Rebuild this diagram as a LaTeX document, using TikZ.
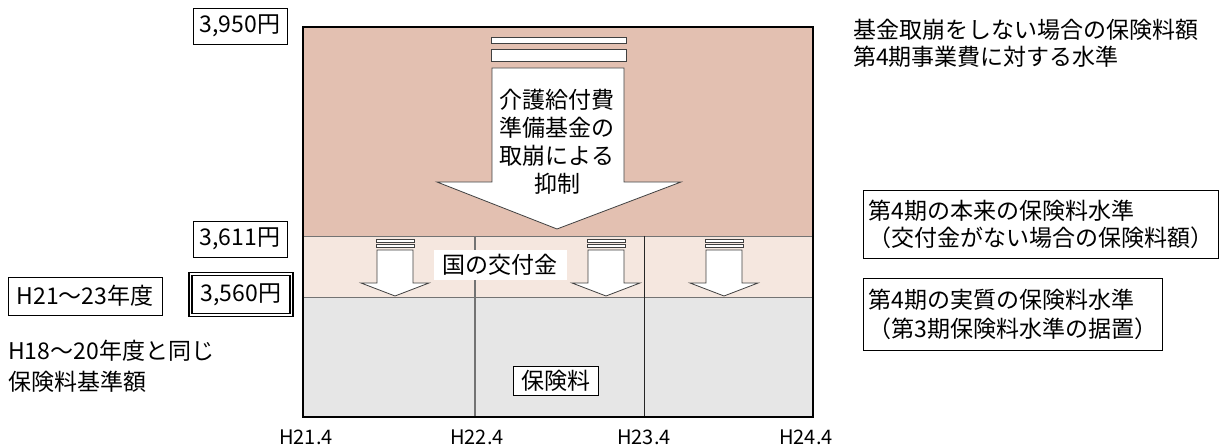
\documentclass[tikz,border=0pt]{standalone}
\usepackage{fontspec}
\setmainfont{Noto Sans CJK JP}
\usetikzlibrary{positioning}

\definecolor{bandtop}{RGB}{227,192,177}
\definecolor{bandmid}{RGB}{245,231,223}
\definecolor{bandlow}{RGB}{230,230,230}

\begin{document}
\begin{tikzpicture}[
      x=1pt, y=-1pt,
      every node/.style={font=\fontsize{23}{28}\selectfont, inner sep=0pt},
      valbox/.style={draw, line width=.8pt, minimum width=94, minimum height=36},
      notebox/.style={draw, line width=.8pt, align=left, anchor=west, inner xsep=5pt},
      shaft/.style={fill=white, draw=black!75, line width=.8pt}
    ]
    \useasboundingbox (0,0) rectangle (1221,446);

    % bands
    \fill[bandtop] (303,27) rectangle (813,236);
    \fill[bandmid] (303,236) rectangle (813,297);
    \fill[bandlow] (303,297) rectangle (813,417);
    \draw[black!55, line width=.8pt] (303,236) -- (813,236) (303,297) -- (813,297);
    \draw[black!55, line width=1.2pt] (475,236) -- (475,417);
    \draw[black!85, line width=.8pt] (644,236) -- (644,417);

    % big arrow
    \draw[shaft] (491,37) rectangle (626,43);
    \draw[shaft] (491,49) rectangle (626,61);
    \draw[shaft] (492,68) -- (624,68) -- (624,182) -- (681,182) -- (557,229)
      -- (437,182) -- (492,182) -- cycle;
    \node[align=center] (yokusei) at (557,142) {介護給付費\\準備基金の\\取崩による\\抑制};

    % small arrows
    \foreach \ax in {395,606,724} {
      \draw[shaft, line width=.6pt] (\ax-19,239) rectangle (\ax+19,242.5);
      \draw[shaft, line width=.6pt] (\ax-19,244) rectangle (\ax+19,247.5);
      \draw[shaft] (\ax-18,250) -- (\ax+18,250) -- (\ax+18,283) -- (\ax+34,283)
        -- (\ax,296) -- (\ax-34,283) -- (\ax-18,283) -- cycle;
    }

    \node[fill=white, inner xsep=9pt, inner ysep=4pt] (kofu) at (500,265) {国の交付金};
    \node[draw, fill=white, line width=.8pt, inner xsep=8pt, inner ysep=4pt] (hoken) at (556,381) {保険料};

    \draw[line width=2.5pt] (303,27) rectangle (813,417);

    % values on the left
    \node[valbox] (v3950) at (240,26) {3,950円};
    \node[valbox] (v3611) at (240,239) {3,611円};
    \node[valbox, double, line width=1.2pt, double distance=1.8pt,
      minimum width=101, minimum height=41] (v3560) at (241,294.5) {3,560円};
    \node[valbox, minimum width=154, minimum height=38] (term) at (85,296) {H21～23年度};
    \node[anchor=west, align=left, font=\fontsize{23}{31}\selectfont] (same) at (8,366.5)
      {H18～20年度と同じ\\保険料基準額};

    % notes on the right
    \node[anchor=west, align=left, font=\fontsize{23}{27}\selectfont] (nofund) at (853,43.5)
      {基金取崩をしない場合の保険料額\\第4期事業費に対する水準};
    \node[notebox, minimum height=68, font=\fontsize{23}{27}\selectfont] (honrai) at (863,224)
      {第4期の本来の保険料水準\\（交付金がない場合の保険料額）};
    \node[notebox, minimum height=72, font=\fontsize{23}{29}\selectfont] (jissitsu) at (863,314)
      {第4期の実質の保険料水準\\（第3期保険料水準の据置）};

    % years
    \foreach \tx/\tl [count=\i] in {306/H21.4, 477/H22.4, 644/H23.4, 806/H24.4}
      \node[font=\fontsize{20}{24}\selectfont] (yr\i) at (\tx,437) {\tl};
\end{tikzpicture}
\end{document}
